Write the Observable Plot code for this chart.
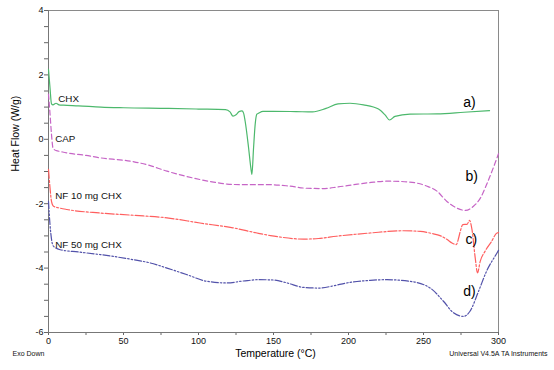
<!DOCTYPE html>
<html><head><meta charset="utf-8">
<script src="https://cdn.jsdelivr.net/npm/d3@7"></script>
<script src="https://cdn.jsdelivr.net/npm/@observablehq/plot@0.6"></script>
<style>body{margin:0;background:#fff;} svg{font-family:"Liberation Sans",Arial,sans-serif;}</style>
</head><body><div id="chart"></div>
<script>
// a) CHX
const chxT = [0,1,2,3,5,7,10,20,35,50,80,100,118,121,123,125,127,129,130,131.1,133.4,134.9,135.6,136.7,137.8,138.9,140,143,150,165,176,185,193,201,210,220,224.5,227.4,231,241,259,277,294];
const chxV = [2.17,1.6,1.1,1.07,1.12,1.07,1.06,1.04,1.0,0.98,0.96,0.94,0.92,0.85,0.72,0.76,0.86,0.88,0.82,0.56,-0.27,-0.89,-1.09,-0.27,0.47,0.78,0.81,0.87,0.87,0.86,0.85,0.96,1.1,1.12,1.07,0.94,0.75,0.60,0.71,0.78,0.79,0.84,0.89];
// b) CAP
const capT = [0,1,2,3,5,8,12,25,35,50,57,65,79,90,101,110,119,130,140,148,160,172,183,193,203.5,215,225.6,235,245.6,252,259,265.6,272,278,283.3,288,292,296,300];
const capV = [1.4,0.8,0.15,-0.27,-0.35,-0.38,-0.42,-0.5,-0.58,-0.65,-0.70,-0.78,-0.99,-1.13,-1.25,-1.33,-1.39,-1.41,-1.41,-1.41,-1.45,-1.52,-1.53,-1.48,-1.41,-1.34,-1.30,-1.31,-1.36,-1.45,-1.61,-1.93,-2.13,-2.21,-2.08,-1.82,-1.41,-0.95,-0.45];
// c) NF 10 mg CHX
const nf10T = [0,1,2,3.3,7,12.3,34.5,56.7,79,101,123,139,148,155,170,180,192,214.5,236.7,247.8,256,261,266,269,271.8,273.5,274.5,276.2,279,280.7,282.3,284.5,286,287.8,291,295,299,300];
const nf10V = [-0.93,-1.5,-1.93,-2.08,-2.13,-2.18,-2.29,-2.36,-2.44,-2.60,-2.75,-2.91,-2.99,-3.04,-3.10,-3.08,-3.01,-2.91,-2.84,-2.86,-2.93,-2.99,-3.12,-3.22,-3.27,-3.05,-2.86,-2.65,-2.64,-2.52,-2.80,-3.69,-4.15,-3.79,-3.48,-3.2,-2.91,-2.9];
// d) NF 50 mg CHX
const nf50T = [0,1,2,3.3,7.8,20,34.5,56.7,67.8,79,92,105.6,119,130,140,150,159,170,181,190,199,214.5,225.6,241,254.5,263.3,270,276.7,281,286.7,292,299,300];
const nf50V = [-1.93,-2.65,-3.1,-3.32,-3.43,-3.5,-3.58,-3.74,-3.84,-4.0,-4.20,-4.41,-4.46,-4.40,-4.36,-4.37,-4.46,-4.60,-4.62,-4.55,-4.46,-4.38,-4.36,-4.41,-4.62,-5.03,-5.39,-5.50,-5.34,-4.72,-4.10,-3.53,-3.45];

const seriesNames = ["CHX","CAP","NF 10 mg CHX","NF 50 mg CHX"];
const seriesTags = ["a)","b)","c)","d)"];
const seriesColors = ["#4cb86c","#c665c6","#ff5f5f","#5252aa"];
const seriesDash = [null,"5,3","9,2,2,2","7,2,1.5,2,1.5,2"];
// label anchor points (data coordinates)
const nameT = [6.5,4.5,4.5,4.5];
const nameV = [1.27,0.0,-1.77,-3.27];
const tagT = [276.5,278,278,276.5];
const tagV = [1.13,-1.15,-3.11,-4.72];

const yTicks = d3.range(-6, 4.001, 0.5);
const xTicks = d3.range(0, 300.001, 25);

const allT = [chxT, capT, nf10T, nf50T];
const allV = [chxV, capV, nf10V, nf50V];

const lineMarks = allT.map((ts, i) => Plot.line(ts.map((t, j) => ({T: t, v: allV[i][j]})), {
  x: "T", y: "v", stroke: seriesColors[i], strokeWidth: 1.2,
  strokeDasharray: seriesDash[i] || undefined, curve: "monotone-x"
}));

const nameRows = seriesNames.map((n, i) => ({n, T: nameT[i], v: nameV[i]}));
const tagRows = seriesTags.map((n, i) => ({n, T: tagT[i], v: tagV[i]}));

const chart = Plot.plot({
  width: 554, height: 370,
  marginLeft: 48, marginRight: 56, marginTop: 10, marginBottom: 38,
  x: {domain: [0, 300]},
  y: {domain: [-6, 4]},
  style: {fontFamily: '"Liberation Sans",Arial,sans-serif', background: "#fff"},
  marks: [
    Plot.frame({stroke: "#8a8a8a", strokeWidth: 1}),
    Plot.axisY(yTicks, {tickSize: 4, tickPadding: 1, fontSize: 9, fill: "#111", stroke: "#666",
      tickFormat: d => (Math.abs(d % 2) < 1e-9 ? String(d) : ""), label: null}),
    Plot.axisX(xTicks, {tickSize: 3, tickPadding: 2, fontSize: 9, fill: "#111", stroke: "#666",
      tickFormat: d => (d % 50 === 0 ? String(d) : ""), label: null}),
    Plot.ruleX([0], {stroke: "#777"}),
    Plot.ruleY([-6], {stroke: "#777"}),
    ...lineMarks,
    Plot.text(nameRows, {x: "T", y: "v", text: "n", textAnchor: "start", fontSize: 9.8, fill: "#111"}),
    Plot.text(tagRows, {x: "T", y: "v", text: "n", textAnchor: "start", fontSize: 14, fill: "#000"}),
    Plot.text(["Heat Flow (W/g)"], {frameAnchor: "left", dx: -33, rotate: -90, fontSize: 10.5, fill: "#000"}),
    Plot.text(["Temperature (°C)"], {frameAnchor: "bottom", dx: 2, dy: 24, fontSize: 10.5, fill: "#000"}),
    Plot.text(["Exo Down"], {frameAnchor: "bottom-left", textAnchor: "start", dx: -36, dy: 23, fontSize: 7, fill: "#111"}),
    Plot.text(["Universal V4.5A TA Instruments"], {frameAnchor: "bottom-right", textAnchor: "end", dx: 49, dy: 23, fontSize: 7, fill: "#111"})
  ]
});
document.getElementById("chart").appendChild(chart);
</script>
</body></html>
